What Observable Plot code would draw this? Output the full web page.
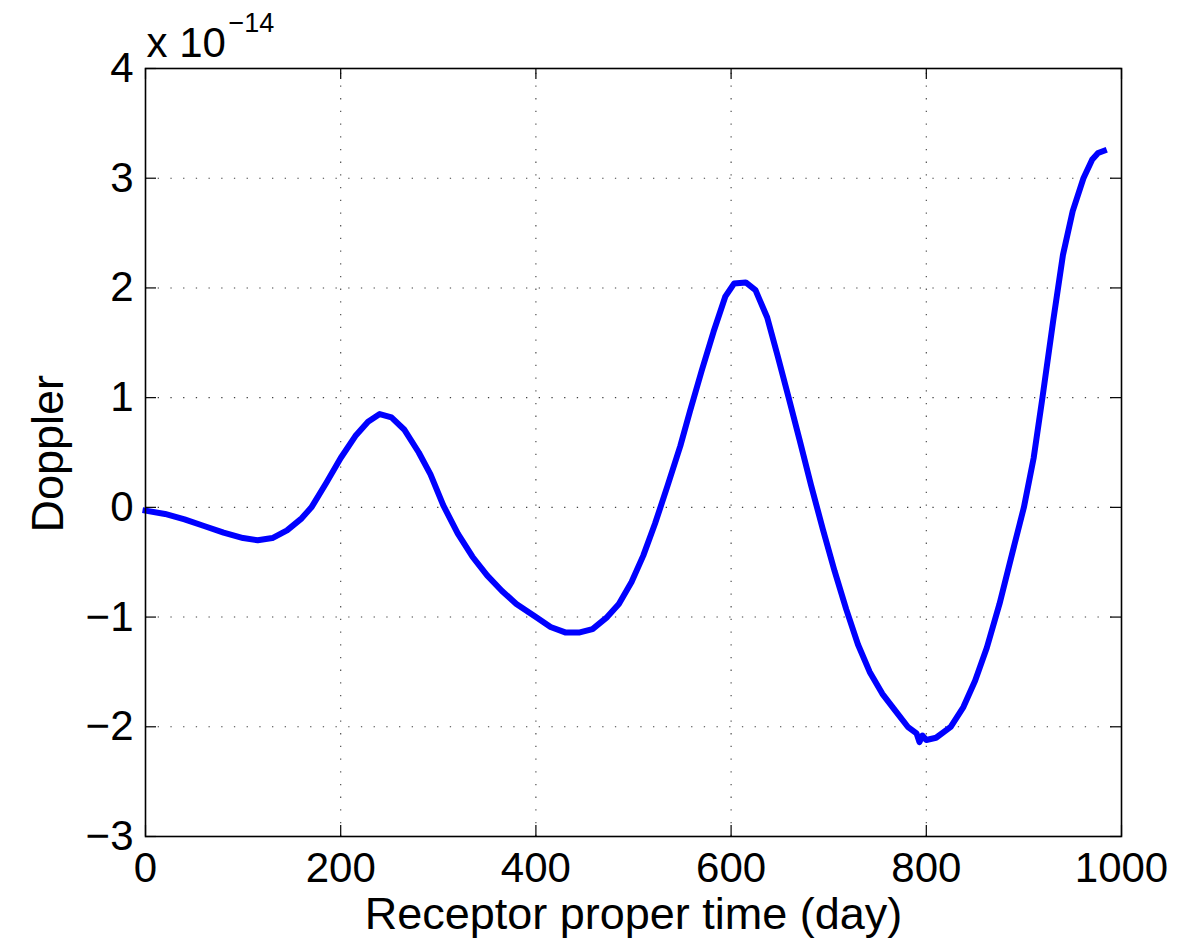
<!DOCTYPE html>
<html>
<head>
<meta charset="utf-8">
<script src="https://cdn.jsdelivr.net/npm/d3@7"></script>
<script src="https://cdn.jsdelivr.net/npm/@observablehq/plot@0.6"></script>
<style>
  html, body { margin: 0; padding: 0; background: #fff; }
</style>
</head>
<body>
<div id="chart"></div>
<script>
// Data (Doppler in units of 1e-14)
const days = [0, 20, 40, 60, 80, 100, 115, 130, 145, 160, 170, 185, 200, 215, 228, 240, 252, 265, 280, 292,
  305, 320, 335, 350, 365, 380, 400, 415, 430, 445, 458, 473, 485, 498, 510, 522, 535, 548, 558, 570,
  582, 594, 603, 615, 625, 637, 648, 659, 670, 682, 694, 706, 718, 730, 742, 755, 768, 781, 790, 793,
  796, 800, 810, 825, 838, 850, 862, 875, 888, 900, 910, 919, 930, 940, 950, 961, 970, 976, 982];
const doppler = [-0.03, -0.06, -0.11, -0.17, -0.23, -0.28, -0.30, -0.28, -0.21, -0.10, 0.00, 0.22, 0.45, 0.65, 0.78, 0.85, 0.82, 0.71, 0.50, 0.30,
  0.02, -0.24, -0.45, -0.62, -0.76, -0.88, -1.00, -1.09, -1.14, -1.14, -1.11, -1.00, -0.88, -0.68, -0.44, -0.15, 0.20, 0.56, 0.88, 1.25,
  1.60, 1.92, 2.04, 2.05, 1.98, 1.73, 1.37, 1.00, 0.62, 0.20, -0.20, -0.58, -0.93, -1.25, -1.50, -1.70, -1.85, -2.00, -2.06, -2.14,
  -2.08, -2.12, -2.10, -2.00, -1.82, -1.58, -1.28, -0.88, -0.42, 0.00, 0.45, 1.00, 1.70, 2.30, 2.70, 3.00, 3.17, 3.23, 3.25];
const xTicks = [0, 200, 400, 600, 800, 1000];
const xTickLabels = ["0", "200", "400", "600", "800", "1000"];
const yTicks = [-3, -2, -1, 0, 1, 2, 3, 4];
const yTickLabels = ["\u22123", "\u22122", "\u22121", "0", "1", "2", "3", "4"];
const xLabel = "Receptor proper time (day)";
const yLabel = "Doppler";
const exponentBase = "x 10";
const exponentPower = "\u221214";

const data = days.map((d, i) => ({day: d, value: doppler[i]}));

const xDom = [0, 1000];
const yDom = [-3, 4];
const tickX = 11 / 0.976;   // ~11px in data units
const tickY = 11 / 109.7;

const font = "'Liberation Sans', Arial, Helvetica, sans-serif";
const gridStyle = {stroke: "#000", strokeOpacity: 0.75, strokeWidth: 1.1, strokeDasharray: "1.3 11.4"};

const chart = Plot.plot({
  width: 1200,
  height: 939,
  marginLeft: 145,
  marginRight: 79,
  marginTop: 68,
  marginBottom: 103,
  x: {domain: xDom, label: null},
  y: {domain: yDom, label: null},
  style: {fontFamily: font, fontSize: "42px", background: "#fff", color: "#000", overflow: "visible"},
  marks: [
    Plot.ruleX(xTicks.slice(1, -1), {y1: yDom[0], y2: yDom[1], ...gridStyle}),
    Plot.ruleY(yTicks.slice(1, -1), {x1: xDom[0], x2: xDom[1], ...gridStyle}),
    Plot.line(data, {x: "day", y: "value", stroke: "#0000ff", strokeWidth: 6, strokeLinejoin: "round", strokeLinecap: "square"}),
    // inward ticks (MATLAB style)
    Plot.ruleX(xTicks, {y1: yDom[0], y2: yDom[0] + tickY, stroke: "#000", strokeWidth: 1.2}),
    Plot.ruleX(xTicks, {y1: yDom[1], y2: yDom[1] - tickY, stroke: "#000", strokeWidth: 1.2}),
    Plot.ruleY(yTicks, {x1: xDom[0], x2: xDom[0] + tickX, stroke: "#000", strokeWidth: 1.2}),
    Plot.ruleY(yTicks, {x1: xDom[1], x2: xDom[1] - tickX, stroke: "#000", strokeWidth: 1.2}),
    Plot.frame({stroke: "#000", strokeWidth: 1.6}),
    Plot.axisX(xTicks, {tickSize: 0, tickPadding: 16, tickFormat: (d, i) => xTickLabels[i], fontSize: 42}),
    Plot.axisY(yTicks, {tickSize: 0, tickPadding: 12, tickFormat: (d, i) => yTickLabels[i], fontSize: 42}),
    Plot.text([xLabel], {frameAnchor: "bottom", dy: 78, lineAnchor: "middle", fontSize: 45, fill: "#000"}),
    Plot.text([yLabel], {frameAnchor: "left", dx: -97, dy: 80, lineAnchor: "middle", rotate: -90, fontSize: 45, fill: "#000"}),
    Plot.text([exponentBase], {frameAnchor: "top-left", dx: 1, dy: -25, textAnchor: "start", lineAnchor: "middle", fontSize: 42, fill: "#000"}),
    Plot.text([exponentPower], {frameAnchor: "top-left", dx: 83, dy: -45, textAnchor: "start", lineAnchor: "middle", fontSize: 27, fill: "#000"})
  ]
});
document.getElementById("chart").appendChild(chart);
</script>
</body>
</html>
